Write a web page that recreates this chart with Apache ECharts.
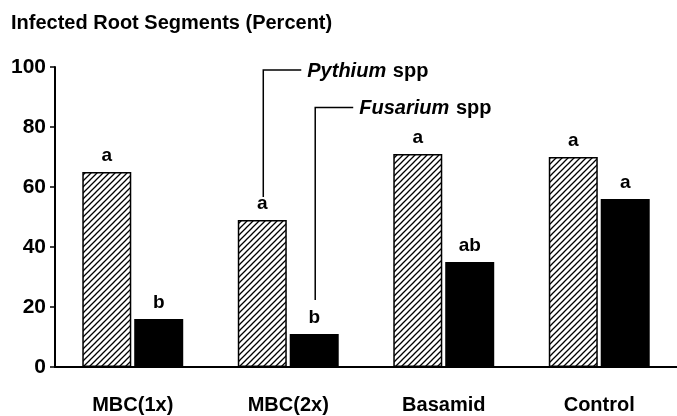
<!DOCTYPE html>
<html>
<head>
<meta charset="utf-8">
<script src="https://cdn.jsdelivr.net/npm/echarts@6/dist/echarts.min.js"></script>
<style>
  html, body { margin: 0; padding: 0; background: #fff; }
  #main { width: 677px; height: 416px; }
</style>
</head>
<body>
<div id="main"></div>
<script>
const categories = ['MBC(1x)', 'MBC(2x)', 'Basamid', 'Control']
const pythium = [65, 49, 71, 70]
const fusarium = [16, 11, 35, 56]
const pythiumLetters = ['a', 'a', 'a', 'a']
const fusariumLetters = ['b', 'b', 'ab', 'a']
const yTicks = [0, 20, 40, 60, 80, 100]

const FONT = 'Liberation Sans'
const BAR_W = 49
const BAR_GAP = 0.06

// diagonal hatch for the Pythium bars
function hatch () {
  const c = document.createElement('canvas')
  const s = 6
  c.width = s
  c.height = s
  const g = c.getContext('2d')
  g.fillStyle = '#fff'
  g.fillRect(0, 0, s, s)
  g.strokeStyle = '#000'
  g.lineWidth = 1.3
  g.beginPath()
  g.moveTo(-1, s + 1); g.lineTo(s + 1, -1)
  g.moveTo(-1, 1); g.lineTo(1, -1)
  g.moveTo(s - 1, s + 1); g.lineTo(s + 1, s - 1)
  g.stroke()
  return c
}

const chart = echarts.init(document.getElementById('main'))

const labelStyle = {
  show: true,
  position: 'top',
  distance: 7,
  color: '#000',
  fontFamily: FONT,
  fontWeight: 'bold',
  fontSize: 19
}

chart.setOption({
  animation: false,
  backgroundColor: '#fff',
  textStyle: { fontFamily: FONT },
  title: {
    text: 'Infected Root Segments (Percent)',
    left: 6,
    top: 8,
    textStyle: { fontFamily: FONT, fontWeight: 'bold', fontSize: 20, color: '#000' }
  },
  grid: { left: 55, top: 67, width: 629, height: 300, containLabel: false },
  xAxis: {
    type: 'category',
    data: categories,
    axisLine: { lineStyle: { color: '#000', width: 2 } },
    axisTick: { show: false },
    axisLabel: { color: '#000', fontFamily: FONT, fontWeight: 'bold', fontSize: 20, margin: 28 }
  },
  yAxis: {
    type: 'value',
    min: yTicks[0],
    max: yTicks[yTicks.length - 1],
    interval: yTicks[1] - yTicks[0],
    axisLine: { show: true, lineStyle: { color: '#000', width: 2 } },
    axisTick: { show: true, length: 5, lineStyle: { color: '#000', width: 1.5 } },
    splitLine: { show: false },
    axisLabel: { color: '#000', fontFamily: FONT, fontWeight: 'bold', fontSize: 21, margin: 9 }
  },
  series: [
    {
      name: 'Pythium spp',
      type: 'bar',
      data: pythium,
      barWidth: BAR_W,
      barGap: (BAR_GAP * 100) + '%',
      itemStyle: {
        color: { image: hatch(), repeat: 'repeat' },
        borderColor: '#000',
        borderWidth: 1.5
      },
      label: Object.assign({}, labelStyle, { formatter: (p) => pythiumLetters[p.dataIndex] })
    },
    {
      name: 'Fusarium spp',
      type: 'bar',
      data: fusarium,
      barWidth: BAR_W,
      itemStyle: { color: '#000' },
      label: Object.assign({}, labelStyle, { formatter: (p) => fusariumLetters[p.dataIndex] })
    }
  ]
})

// leader lines pointing at the MBC(2x) bars
function leader (barValue, side, yTop, drop, text) {
  const off = (BAR_W + BAR_W * BAR_GAP) / 2
  const c = chart.convertToPixel({ seriesIndex: 0 }, [1, barValue])
  const top = chart.convertToPixel({ seriesIndex: 0 }, [1, yTop])
  const x = c[0] + side * off + 1
  const y0 = top[1]
  const y1 = c[1] - drop
  return [
    {
      type: 'polyline',
      shape: { points: [[x, y1], [x, y0], [x + 38, y0]] },
      style: { stroke: '#000', lineWidth: 1.5, fill: null }
    },
    {
      type: 'text',
      x: x + 44,
      y: y0 + 1,
      style: {
        text: '{i|' + text + '}  {n|spp}',
        verticalAlign: 'middle',
        rich: {
          i: { fontFamily: FONT, fontStyle: 'italic', fontWeight: 'bold', fontSize: 20, fill: '#000' },
          n: { fontFamily: FONT, fontWeight: 'bold', fontSize: 20, fill: '#000' }
        }
      }
    }
  ]
}

chart.setOption({
  graphic: [].concat(
    leader(pythium[1], -1, 99, 23, 'Pythium'),
    leader(fusarium[1], 1, 86.5, 34, 'Fusarium')
  )
})
</script>
</body>
</html>
